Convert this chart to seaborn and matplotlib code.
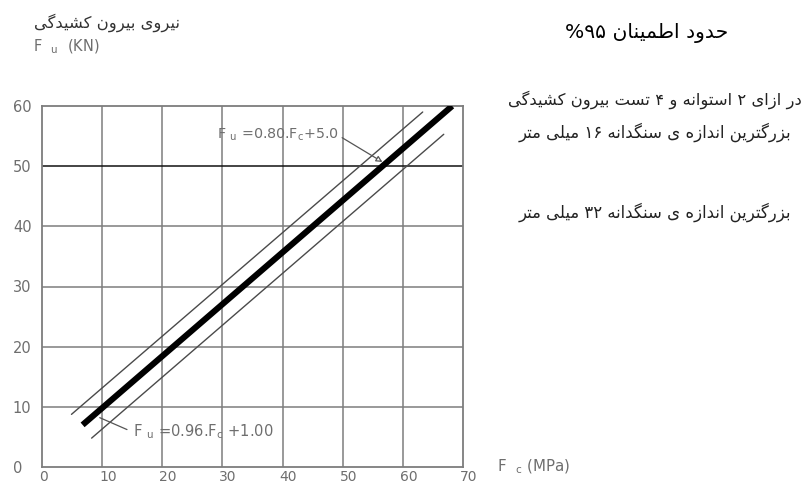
import numpy as np
import pandas as pd
import matplotlib
matplotlib.use("Agg")
import matplotlib.pyplot as plt
import matplotlib.transforms as mtransforms
import seaborn as sns

# Regression line and its 95% confidence band (Fc in MPa, Fu in kN)
fit_fc = [6.75, 68.2]
fit_fu = [7.0, 60.0]
upper_fc = [4.9, 63.3]
upper_fu = [8.75, 59.0]
lower_fc = [8.25, 66.8]
lower_fu = [4.8, 55.3]

x_ticks = [0, 10, 20, 30, 40, 50, 60, 70]
y_ticks = [0, 10, 20, 30, 40, 50, 60]

eq_upper = r"F $_{u}$ =0.80.F$_{c}$+5.0"
eq_lower = r"F $_{u}$ =0.96.F$_{c}$ +1.00"

title_fa = "حدود اطمینان ۹۵%"
ylabel_fa = "نیروی بیرون کشیدگی"
note_lines_fa = [
    "در ازای ۲ استوانه و ۴ تست بیرون کشیدگی",
    "بزرگترین اندازه ی سنگدانه ۱۶ میلی متر",
    "بزرگترین اندازه ی سنگدانه ۳۲ میلی متر",
]

# --- minimal Persian shaping: contextual forms + right-to-left ordering ---
FORMS = {  # isolated, final, initial, medial
    "ا": ("\uFE8D", "\uFE8E", None, None),
    "ب": ("\uFE8F", "\uFE90", "\uFE91", "\uFE92"),
    "ت": ("\uFE95", "\uFE96", "\uFE97", "\uFE98"),
    "ح": ("\uFEA1", "\uFEA2", "\uFEA3", "\uFEA4"),
    "د": ("\uFEA9", "\uFEAA", None, None),
    "ر": ("\uFEAD", "\uFEAE", None, None),
    "ز": ("\uFEAF", "\uFEB0", None, None),
    "س": ("\uFEB1", "\uFEB2", "\uFEB3", "\uFEB4"),
    "ش": ("\uFEB5", "\uFEB6", "\uFEB7", "\uFEB8"),
    "ط": ("\uFEC1", "\uFEC2", "\uFEC3", "\uFEC4"),
    "ل": ("\uFEDD", "\uFEDE", "\uFEDF", "\uFEE0"),
    "م": ("\uFEE1", "\uFEE2", "\uFEE3", "\uFEE4"),
    "ن": ("\uFEE5", "\uFEE6", "\uFEE7", "\uFEE8"),
    "ه": ("\uFEE9", "\uFEEA", "\uFEEB", "\uFEEC"),
    "و": ("\uFEED", "\uFEEE", None, None),
    "ک": ("\uFB8E", "\uFB8F", "\uFB90", "\uFB91"),
    "گ": ("\uFB92", "\uFB93", "\uFB94", "\uFB95"),
    "ی": ("\uFBFC", "\uFBFD", "\uFBFE", "\uFBFF"),
}
DIGITS = set("۰۱۲۳۴۵۶۷۸۹0123456789")


def shape_fa(text):
    out = []
    for i, ch in enumerate(text):
        if ch not in FORMS:
            out.append(ch)
            continue
        iso, fin, ini, med = FORMS[ch]
        prev = text[i - 1] if i > 0 else ""
        nxt = text[i + 1] if i + 1 < len(text) else ""
        join_prev = prev in FORMS and FORMS[prev][2] is not None
        join_next = ini is not None and nxt in FORMS
        if join_prev and join_next:
            out.append(med)
        elif join_prev:
            out.append(fin)
        elif join_next:
            out.append(ini)
        else:
            out.append(iso)
    rev = "".join(out)[::-1]
    # keep digit runs in left-to-right order
    result, run = [], []
    for ch in rev:
        if ch in DIGITS:
            run.append(ch)
        else:
            result.extend(run[::-1])
            run = []
            result.append(ch)
    result.extend(run[::-1])
    return "".join(result)


sns.set_theme(style="white")
plt.rcParams["font.family"] = ["DejaVu Sans"]
plt.rcParams["mathtext.default"] = "regular"

W, H = 803, 483
fig = plt.figure(figsize=(W / 100, H / 100), dpi=100)
ax = fig.add_axes([42 / W, 16 / H, 421 / W, 361 / H])

GRID = "#7d7d7d"
TXT = "#6e6e6e"

ax.set_xlim(0, 70)
ax.set_ylim(0, 60)
ax.set_xticks(x_ticks)
ax.set_yticks(y_ticks)
ax.grid(False)
for v in x_ticks[1:-1]:
    ax.axvline(v, color=GRID, lw=1.1, zorder=1)
for h in y_ticks[1:-1]:
    ax.axhline(h, color="#111111" if h == 50 else GRID, lw=1.1, zorder=1)
for s in ax.spines.values():
    s.set_color(GRID)
    s.set_linewidth(1.3)

band = pd.DataFrame({
    "fc": upper_fc + lower_fc,
    "fu": upper_fu + lower_fu,
    "bound": ["upper"] * 2 + ["lower"] * 2,
})
sns.lineplot(data=band, x="fc", y="fu", units="bound", estimator=None,
             color="#4a4a4a", lw=1.0, ax=ax, zorder=3)
sns.lineplot(x=fit_fc, y=fit_fu, color="black", lw=4.4, ax=ax, zorder=4,
             solid_capstyle="butt")

ax.tick_params(axis="both", length=0, labelsize=10.5, colors=TXT)
ax.tick_params(axis="y", pad=21)
ax.tick_params(axis="x", pad=2.5, labelsize=10)
for lab in ax.get_yticklabels():
    lab.set_horizontalalignment("left")
off = mtransforms.ScaledTranslation(-3 / 100, 0, fig.dpi_scale_trans)
for lab in ax.get_xticklabels():
    lab.set_horizontalalignment("left")
    lab.set_transform(lab.get_transform() + off)

ax.set_xlabel(r"F  $_{c}$ (MPa)", fontsize=10.8, color=TXT, ha="left", va="center")
ax.xaxis.set_label_coords((497 - 42) / 421, 0.0)
ax.set_ylabel("")

# equation callouts
ax.annotate(eq_upper, xy=(56.6, 50.7), xytext=(29.1, 55.2),
            fontsize=10.3, color=TXT, va="center", ha="left",
            arrowprops=dict(arrowstyle="-|>", color="#555555", lw=0.9,
                            shrinkA=0, shrinkB=0, mutation_scale=9,
                            fc="white", relpos=(1.0, 0.45)))
ax.annotate(eq_lower, xy=(9.6, 8.2), xytext=(15.1, 5.8),
            fontsize=10.6, color=TXT, va="center", ha="left",
            arrowprops=dict(arrowstyle="-", color="#555555", lw=0.9,
                            shrinkA=2, shrinkB=0, relpos=(0.0, 0.5)))

# axis caption
fig.text(180 / W, 1 - 23 / H, shape_fa(ylabel_fa), fontsize=11.8, color="#333333",
         ha="right", va="center")
fig.text(33 / W, 1 - 47 / H, r"F  $_{u}$  (KN)", fontsize=10.5, color=TXT,
         ha="left", va="center")

# side notes
fig.text(647 / W, 1 - 33 / H, shape_fa(title_fa), fontsize=14.6, color="black",
         ha="center", va="center")
for text, yc, size in zip(note_lines_fa, [100, 132, 212], [11.8, 11.9, 11.9]):
    fig.text(655 / W, 1 - yc / H, shape_fa(text), fontsize=size, color="#222222",
             ha="center", va="center")

fig.savefig("out.png", dpi=100)
